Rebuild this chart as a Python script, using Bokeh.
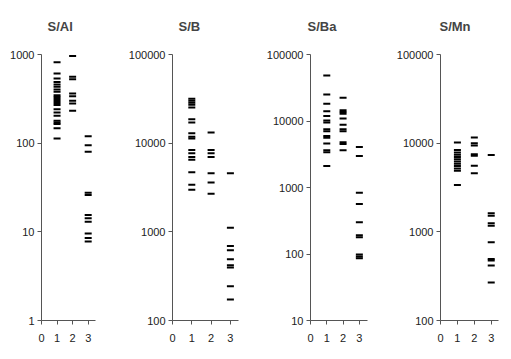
from bokeh.plotting import figure
from bokeh.layouts import row
from bokeh.models import Range1d, FixedTicker, CustomJSTickFormatter, ColumnDataSource
from bokeh.embed import file_html
from bokeh.resources import INLINE

# ---- data ----
groups = [1, 2, 3]

sal_g1 = [819, 611, 537, 491, 459, 432, 403, 380, 348, 331, 314, 298, 283, 269, 242, 222, 204, 179, 171, 164, 147, 113]
sal_g2 = [964, 560, 527, 364, 339, 300, 281, 232]
sal_g3 = [120, 95, 80, 27.6, 26, 15.5, 14.2, 13.0, 9.6, 8.5, 7.8]

sb_g1 = [31700, 30100, 28600, 27200, 25200, 18600, 17100, 12900, 11800, 11300, 8400, 7700, 7000, 6500, 4700, 3400, 2980]
sb_g2 = [13200, 8400, 7700, 7000, 4570, 3600, 2690]
sb_g3 = [4570, 1110, 693, 620, 491, 421, 396, 244, 173]

sba_g1 = [48400, 25100, 18200, 14000, 11900, 10200, 9500, 7500, 7000, 5960, 5600, 4580, 3640, 3400, 2110]
sba_g2 = [22400, 14500, 13600, 12900, 10900, 8800, 7500, 7000, 4800, 4500, 3640]
sba_g3 = [4070, 2980, 834, 564, 300, 191, 179, 98, 91.4, 86.5]

smn_g1 = [10200, 8360, 7870, 7410, 6980, 6580, 6210, 5850, 5510, 5190, 4890, 3370]
smn_g2 = [11600, 10000, 9400, 7500, 7200, 5560, 4570]
smn_g3 = [7350, 1620, 1520, 1250, 1170, 764, 495, 474, 416, 268]

x_ticks = [0, 1, 2, 3]
sal_yticks = [1, 10, 100, 1000]
sb_yticks = [100, 1000, 10000, 100000]
sba_yticks = [10, 100, 1000, 10000, 100000]
smn_yticks = [100, 1000, 10000, 100000]

FONT = "Liberation Sans"
AXIS_COLOR = "#555555"


def panel(title, g1, g2, g3, yticks, x_hi, width, mbl, mbr, toff):
    xs = [groups[0]] * len(g1) + [groups[1]] * len(g2) + [groups[2]] * len(g3)
    ys = list(g1) + list(g2) + list(g3)
    src = ColumnDataSource(dict(x=xs, y=ys))
    p = figure(width=width, height=350, y_axis_type="log",
               x_range=Range1d(0, x_hi), y_range=Range1d(yticks[0], yticks[-1]),
               output_backend="svg", toolbar_location=None,
               min_border_left=mbl, min_border_right=mbr,
               min_border_top=54, min_border_bottom=30, title=title)
    p.title.text_font = FONT
    p.title.text_font_size = "13px"
    p.title.text_font_style = "bold"
    p.title.align = "left"
    p.title.vertical_align = "top"
    p.title.offset = toff
    p.title.standoff = 37
    p.outline_line_color = None
    p.xgrid.grid_line_color = None
    p.ygrid.grid_line_color = None
    p.rect(x="x", y="y", width=7, height=2, width_units="screen",
           height_units="screen", source=src, fill_color="black", line_color=None)
    for ax in (p.xaxis[0], p.yaxis[0]):
        ax.axis_line_color = AXIS_COLOR
        ax.major_tick_line_color = AXIS_COLOR
        ax.major_tick_out = 4
        ax.major_tick_in = 0
        ax.minor_tick_line_color = None
        ax.major_label_text_font = FONT
        ax.major_label_text_font_size = "11px"
        ax.major_label_text_color = "#222222"
    p.xaxis.ticker = FixedTicker(ticks=x_ticks)
    p.yaxis.ticker = FixedTicker(ticks=yticks)
    p.yaxis.formatter = CustomJSTickFormatter(code="return tick.toFixed(0)")
    p.xaxis.major_label_standoff = 9
    p.yaxis.major_label_standoff = 3
    return p


p1 = panel("S/Al", sal_g1, sal_g2, sal_g3, sal_yticks, 3.47, 110, 41, 15, 6)
p2 = panel("S/B", sb_g1, sb_g2, sb_g3, sb_yticks, 3.42, 140, 62, 12, 6)
p3 = panel("S/Ba", sba_g1, sba_g2, sba_g3, sba_yticks, 3.5, 130, 60, 13, -3)
p4 = panel("S/Mn", smn_g1, smn_g2, smn_g3, smn_yticks, 3.43, 125, 60, 7, -1)

layout = row(p1, p2, p3, p4, spacing=0)
open("out.html", "w").write(file_html(layout, INLINE))
